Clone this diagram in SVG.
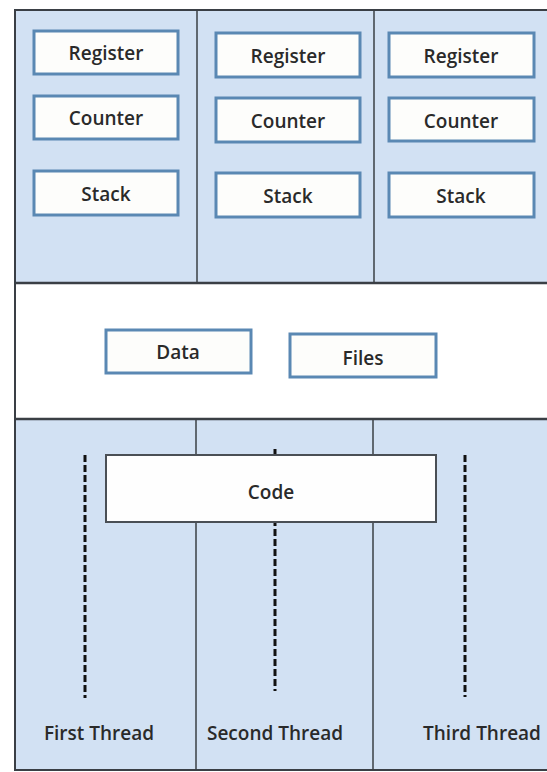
<svg xmlns="http://www.w3.org/2000/svg" width="547" height="772" viewBox="0 0 547 772">
<style>
.sec{fill:#d2e1f3;stroke:none}
.frame{fill:none;stroke:#3a3f45;stroke-width:2}
.div{stroke:#3a3f45;stroke-width:1.5}
.box{fill:#fdfdfb;stroke:#5a88b3;stroke-width:3}
.code{fill:#fefefe;stroke:#4a4f55;stroke-width:2}
.t{font-family:"Open Sans","Liberation Sans",sans-serif;font-size:19px;font-weight:600;fill:#2a2a2a;text-anchor:middle;dominant-baseline:central}
.dash{stroke:#111;stroke-width:3;stroke-dasharray:7 3;fill:none}
</style>
<rect x="0" y="0" width="547" height="772" fill="#ffffff"/>
<g id="sections">
<rect class="sec" x="15" y="10" width="540" height="273"/>
<rect x="15" y="283" width="540" height="136" fill="#ffffff"/>
<rect class="sec" x="15" y="419" width="540" height="351"/>
<rect class="frame" x="15" y="10" width="545" height="760"/>
<line class="div" x1="15" y1="283" x2="547" y2="283" style="stroke-width:2.5"/>
<line class="div" x1="15" y1="419" x2="547" y2="419" style="stroke-width:2.5"/>
<line class="div" x1="197" y1="10" x2="197" y2="283"/>
<line class="div" x1="374" y1="10" x2="374" y2="283"/>
<line class="div" x1="196" y1="419" x2="196" y2="770"/>
<line class="div" x1="373" y1="419" x2="373" y2="770"/>
</g>
<g id="connectors">
<line class="dash" x1="85" y1="455" x2="85" y2="698"/>
<line class="dash" x1="275" y1="449" x2="275" y2="691"/>
<line class="dash" x1="465" y1="455" x2="465" y2="697"/>
</g>
<g id="reg1"><rect class="box" x="34" y="31" width="144" height="43"/><text class="t" x="106" y="53">Register</text></g>
<g id="cnt1"><rect class="box" x="34" y="96" width="144" height="43"/><text class="t" x="106" y="118">Counter</text></g>
<g id="stk1"><rect class="box" x="34" y="171" width="144" height="44"/><text class="t" x="106" y="194">Stack</text></g>
<g id="reg2"><rect class="box" x="216" y="33" width="144" height="44"/><text class="t" x="288" y="56">Register</text></g>
<g id="cnt2"><rect class="box" x="216" y="98" width="144" height="44"/><text class="t" x="288" y="121">Counter</text></g>
<g id="stk2"><rect class="box" x="216" y="173" width="144" height="44"/><text class="t" x="288" y="196">Stack</text></g>
<g id="reg3"><rect class="box" x="389" y="33" width="145" height="44"/><text class="t" x="461" y="56">Register</text></g>
<g id="cnt3"><rect class="box" x="389" y="98" width="145" height="43"/><text class="t" x="461" y="121">Counter</text></g>
<g id="stk3"><rect class="box" x="389" y="173" width="145" height="44"/><text class="t" x="461" y="196">Stack</text></g>
<g id="data"><rect class="box" x="106" y="330" width="145" height="43"/><text class="t" x="178" y="352">Data</text></g>
<g id="files"><rect class="box" x="290" y="334" width="146" height="43"/><text class="t" x="363" y="358">Files</text></g>
<g id="code"><rect class="code" x="106" y="455" width="330" height="67"/><text class="t" x="271" y="492">Code</text></g>
<g id="labels">
<text class="t" x="99" y="733">First Thread</text>
<text class="t" x="275" y="733">Second Thread</text>
<text class="t" x="482" y="733">Third Thread</text>
</g>
</svg>
